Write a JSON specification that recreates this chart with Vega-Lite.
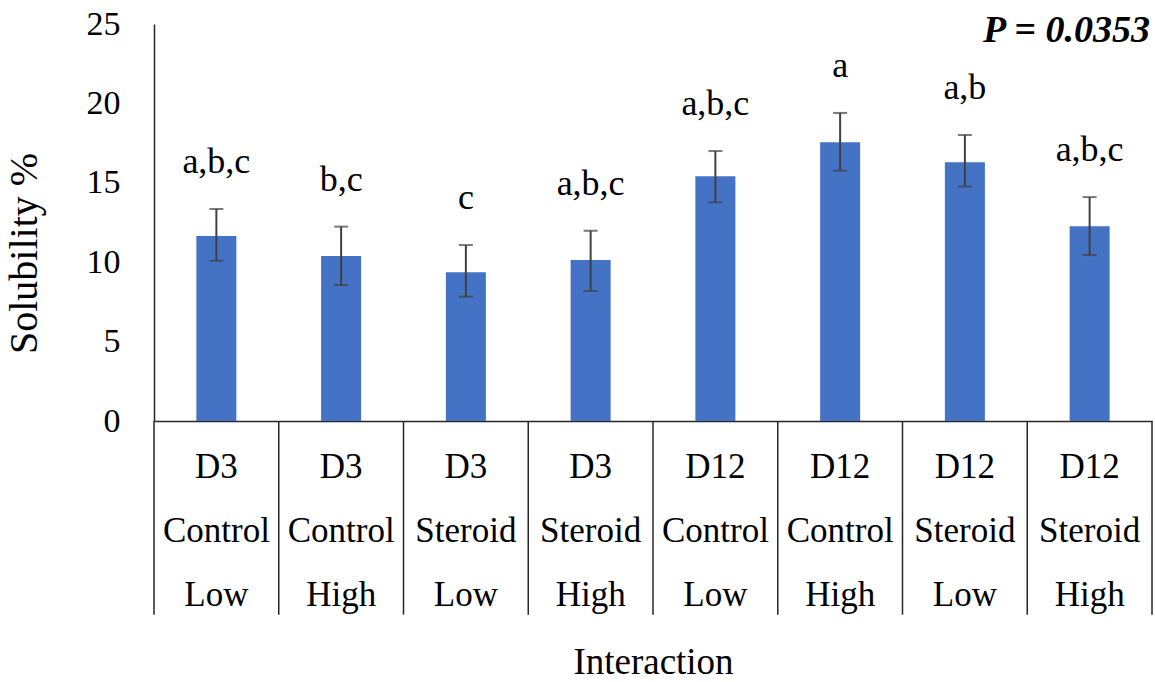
{
  "$schema": "https://vega.github.io/schema/vega-lite/v6.json",
  "width": 998,
  "height": 397,
  "autosize": {"type": "none"},
  "padding": {"left": 154, "top": 24, "right": 3, "bottom": 261},
  "background": "white",
  "config": {"view": {"stroke": null}, "font": "Liberation Serif"},
  "data": {"values": [
    {"cat": "D3 Control Low", "mean": 11.65, "lo": 10.09, "hi": 13.35, "sig": "a,b,c"},
    {"cat": "D3 Control High", "mean": 10.39, "lo": 8.56, "hi": 12.24, "sig": "b,c"},
    {"cat": "D3 Steroid Low", "mean": 9.36, "lo": 7.83, "hi": 11.08, "sig": "c"},
    {"cat": "D3 Steroid High", "mean": 10.14, "lo": 8.19, "hi": 11.98, "sig": "a,b,c"},
    {"cat": "D12 Control Low", "mean": 15.41, "lo": 13.77, "hi": 17.0, "sig": "a,b,c"},
    {"cat": "D12 Control High", "mean": 17.55, "lo": 15.76, "hi": 19.4, "sig": "a"},
    {"cat": "D12 Steroid Low", "mean": 16.29, "lo": 14.76, "hi": 18.01, "sig": "a,b"},
    {"cat": "D12 Steroid High", "mean": 12.26, "lo": 10.45, "hi": 14.1, "sig": "a,b,c"}
  ]},
  "encoding": {
    "x": {"field": "cat", "type": "nominal", "sort": null, "scale": {"paddingInner": 0, "paddingOuter": 0},
      "axis": {"title": "Interaction", "labelExpr": "split(datum.label, ' ')", "labelAngle": 0, "ticks": false, "domainColor": "#262626", "domainWidth": 1.5,
        "labelFont": "Liberation Serif", "labelFontSize": 35, "labelColor": "black", "labelLineHeight": 64, "labelPadding": 28, "labelBaseline": "top",
        "titleFont": "Liberation Serif", "titleFontSize": 37, "titleFontWeight": "normal", "titleColor": "black", "titlePadding": 32}}
  },
  "layer": [
    {
      "mark": {"type": "bar", "size": 40, "color": "#4472C4"},
      "encoding": {
        "y": {"field": "mean", "type": "quantitative", "scale": {"domain": [0, 25], "nice": false},
          "axis": {"title": "Solubility %", "values": [0, 5, 10, 15, 20, 25], "grid": false, "ticks": false, "domainColor": "#262626", "domainWidth": 1.5,
            "labelFont": "Liberation Serif", "labelFontSize": 34, "labelColor": "black", "labelPadding": 34,
            "titleFont": "Liberation Serif", "titleFontSize": 40, "titleFontWeight": "normal", "titleColor": "black",
            "titleX": -110, "titleY": 229, "titleAngle": -90, "titleAlign": "center", "titleBaseline": "bottom"}}
      }
    },
    {
      "mark": {"type": "rule", "color": "#262626", "strokeWidth": 1.5},
      "encoding": {
        "x": {"field": "cat", "type": "nominal", "sort": null, "bandPosition": 0},
        "y": {"datum": 0, "type": "quantitative"},
        "y2": {"datum": -12.2}
      }
    },
    {
      "transform": [{"filter": "datum.cat === 'D12 Steroid High'"}],
      "mark": {"type": "rule", "color": "#262626", "strokeWidth": 1.5},
      "encoding": {
        "x": {"field": "cat", "type": "nominal", "sort": null, "bandPosition": 1},
        "y": {"datum": 0, "type": "quantitative"},
        "y2": {"datum": -12.2}
      }
    },
    {
      "transform": [{"filter": "datum.cat === 'D12 Steroid High'"}],
      "mark": {"type": "text", "align": "right", "baseline": "alphabetic", "dy": 18, "dx": -2, "font": "Liberation Serif", "fontSize": 38, "fontStyle": "italic", "fontWeight": "bold", "color": "black"},
      "encoding": {
        "x": {"field": "cat", "type": "nominal", "sort": null, "bandPosition": 1},
        "y": {"datum": 25, "type": "quantitative"},
        "text": {"value": "P = 0.0353"}
      }
    },
    {
      "mark": {"type": "rule", "color": "#404040", "strokeWidth": 2},
      "encoding": {
        "y": {"field": "lo", "type": "quantitative"},
        "y2": {"field": "hi"}
      }
    },
    {
      "mark": {"type": "tick", "color": "#404040", "size": 14, "thickness": 2},
      "encoding": {
        "y": {"field": "hi", "type": "quantitative"}
      }
    },
    {
      "mark": {"type": "tick", "color": "#404040", "size": 14, "thickness": 2},
      "encoding": {
        "y": {"field": "lo", "type": "quantitative"}
      }
    },
    {
      "mark": {"type": "text", "baseline": "alphabetic", "dy": -36, "font": "Liberation Serif", "fontSize": 36, "color": "black"},
      "encoding": {
        "y": {"field": "hi", "type": "quantitative"},
        "text": {"field": "sig"}
      }
    }
  ]
}
